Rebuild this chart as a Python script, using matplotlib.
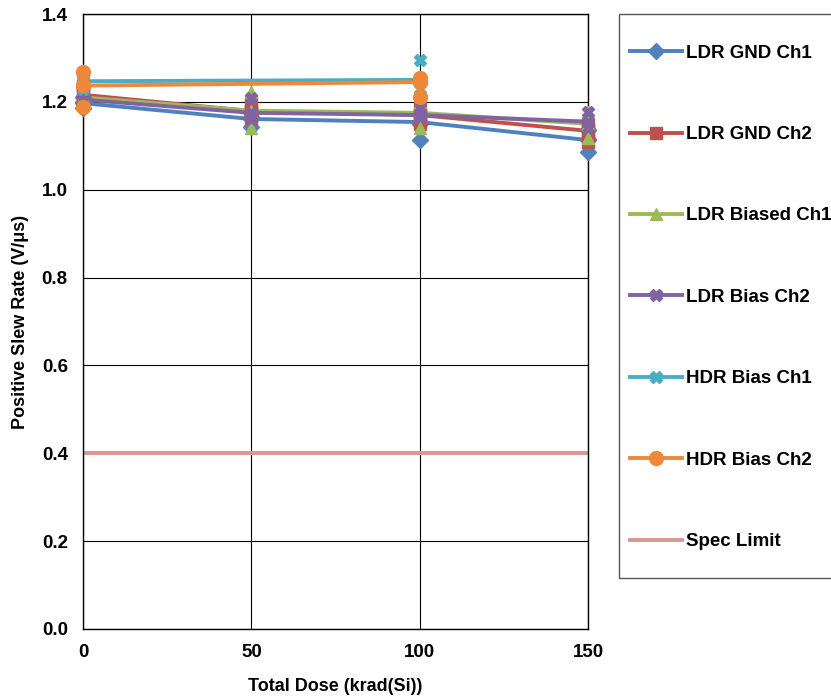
import matplotlib
matplotlib.use("Agg")
import matplotlib.pyplot as plt
from matplotlib.patches import Rectangle

plt.rcParams['font.family'] = ['Liberation Sans', 'DejaVu Sans']
plt.rcParams['font.weight'] = 'bold'

doses = [0, 50, 100, 150]
hdr_doses = [0, 100]

# average lines
ldr_gnd_ch1 = [1.197, 1.161, 1.154, 1.113]
ldr_gnd_ch2 = [1.216, 1.179, 1.170, 1.134]
ldr_bias_ch1 = [1.210, 1.180, 1.175, 1.150]
ldr_bias_ch2 = [1.205, 1.175, 1.170, 1.155]
hdr_bias_ch1 = [1.247, 1.250]
hdr_bias_ch2 = [1.237, 1.245]
spec_limit = 0.4

# individual unit readings (per dose)
ldr_gnd_ch1_pts = [[1.186, 1.200, 1.210], [1.143, 1.165, 1.175], [1.113, 1.150, 1.170], [1.086, 1.115, 1.135]]
ldr_gnd_ch2_pts = [[1.200, 1.215, 1.235], [1.160, 1.180, 1.200], [1.150, 1.170, 1.185], [1.109, 1.135, 1.150]]
ldr_bias_ch1_pts = [[1.195, 1.210, 1.230], [1.140, 1.180, 1.223], [1.140, 1.175, 1.200], [1.118, 1.150, 1.177]]
ldr_bias_ch2_pts = [[1.190, 1.205, 1.225], [1.160, 1.175, 1.209], [1.165, 1.170, 1.185], [1.140, 1.155, 1.177]]
hdr_bias_ch1_pts = [[1.230, 1.247, 1.265], [1.215, 1.250, 1.295]]
hdr_bias_ch2_pts = [[1.189, 1.239, 1.268], [1.212, 1.245, 1.254]]

labels = ["LDR GND Ch1", "LDR GND Ch2", "LDR Biased Ch1", "LDR Bias Ch2",
          "HDR Bias Ch1", "HDR Bias Ch2"]
colors = ["#4F81BD", "#C0504D", "#9BBB59", "#8064A2", "#4BACC6", "#F0883A"]
markers = ["D", "s", "^", "X", "X", "o"]
sizes = [8, 8, 9, 9, 9, 10]

series = [
    (doses, ldr_gnd_ch1, ldr_gnd_ch1_pts),
    (doses, ldr_gnd_ch2, ldr_gnd_ch2_pts),
    (doses, ldr_bias_ch1, ldr_bias_ch1_pts),
    (doses, ldr_bias_ch2, ldr_bias_ch2_pts),
    (hdr_doses, hdr_bias_ch1, hdr_bias_ch1_pts),
    (hdr_doses, hdr_bias_ch2, hdr_bias_ch2_pts),
]

fig = plt.figure(figsize=(8.31, 6.97), dpi=100)
ax = fig.add_axes([0.1, 0.0976, 0.6076, 0.8823])

handles = []
for (xs, avg, pts), lab, c, m, ms in zip(series, labels, colors, markers, sizes):
    for x, vals in zip(xs, pts):
        ax.plot([x] * len(vals), vals, linestyle='none', marker=m, color=c,
                markersize=ms, clip_on=False, zorder=3)
    h, = ax.plot(xs, avg, color=c, linewidth=2.8, marker=m, markersize=ms,
                 label=lab, clip_on=False, zorder=2)
    handles.append(h)

h, = ax.plot([0, 150], [spec_limit, spec_limit], color="#D99694",
             linewidth=2.8, label="Spec Limit")
handles.append(h)

ax.set_xlim(0, 150)
ax.set_ylim(0, 1.4)
ax.set_xticks([0, 50, 100, 150])
ax.set_yticks([0, 0.2, 0.4, 0.6, 0.8, 1.0, 1.2, 1.4])
ax.set_yticklabels([f"{v:.1f}" for v in ax.get_yticks()])
ax.grid(True, color='black', linewidth=0.8)
ax.set_axisbelow(True)
ax.tick_params(length=0, labelsize=13.5, pad=11)
for lbl in ax.get_xticklabels() + ax.get_yticklabels():
    lbl.set_fontweight('bold')
for s in ax.spines.values():
    s.set_linewidth(1.0)

ax.set_xlabel("Total Dose (krad(Si))", fontsize=13, fontweight='bold', labelpad=12)
ax.set_ylabel("Positive Slew Rate (V/\u03bcs)", fontsize=13, fontweight='bold',
              labelpad=9)

fig.patches.append(Rectangle((619 / 831, 1 - 578 / 697), 0.3, (578 - 14) / 697,
                             transform=fig.transFigure, fill=False,
                             edgecolor='#555555', linewidth=1.0))
fig.legend(handles=handles, loc='upper left',
           bbox_to_anchor=(622 / 831, 1 - 37 / 697), frameon=False,
           prop={'weight': 'bold', 'size': 13.5},
           handlelength=2.8, handletextpad=0.2, labelspacing=3.43,
           borderaxespad=0)

fig.savefig("out.png", dpi=100)
